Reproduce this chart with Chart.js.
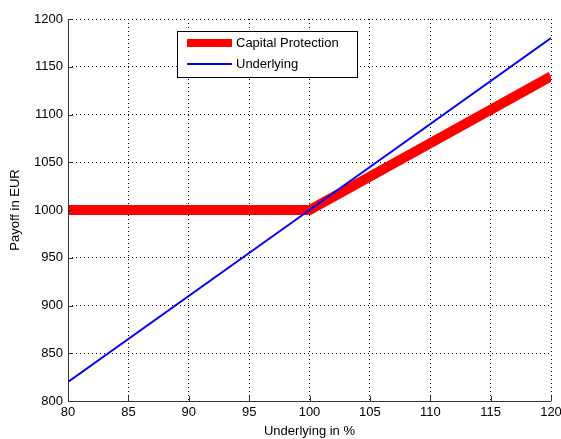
<!DOCTYPE html>
<html>
<head>
<meta charset="utf-8">
<script src="https://cdn.jsdelivr.net/npm/chart.js@4"></script>
<style>
  html, body { margin: 0; padding: 0; background: #fff; }
  #wrap { width: 561px; height: 439px; }
</style>
</head>
<body>
<div id="wrap"><canvas id="payoffChart"></canvas></div>
<script>
// payoff at maturity, per underlying level
const underlying = [80, 100, 120];
const capitalProtection = [1000, 1000, 1140];
const underlyingPayoff = [820, 1000, 1180];

const xTicks = [80, 85, 90, 95, 100, 105, 110, 115, 120];
const yTicks = [800, 850, 900, 950, 1000, 1050, 1100, 1150, 1200];

const FONT = 'Liberation Sans, Arial, sans-serif';

function pts(xs, ys) {
  return xs.map((x, i) => ({ x: x, y: ys[i] }));
}

// small inward tick marks on the left and bottom axes
const innerTicks = {
  id: 'innerTicks',
  afterDraw(chart) {
    const { ctx, chartArea: a, scales: { x, y } } = chart;
    ctx.save();
    ctx.strokeStyle = '#333';
    ctx.lineWidth = 1;
    ctx.beginPath();
    xTicks.forEach(v => {
      const px = Math.round(x.getPixelForValue(v)) + 0.5;
      ctx.moveTo(px, a.bottom);
      ctx.lineTo(px, a.bottom - 5);
    });
    yTicks.forEach(v => {
      const py = Math.round(y.getPixelForValue(v)) + 0.5;
      ctx.moveTo(a.left, py);
      ctx.lineTo(a.left + 5, py);
    });
    // solid left and bottom axis lines
    ctx.moveTo(Math.round(a.left) + 0.5, a.top);
    ctx.lineTo(Math.round(a.left) + 0.5, a.bottom);
    ctx.moveTo(a.left, Math.round(a.bottom) + 0.5);
    ctx.lineTo(a.right, Math.round(a.bottom) + 0.5);
    ctx.stroke();
    ctx.restore();
  }
};

// boxed legend inside the plot
const boxLegend = {
  id: 'boxLegend',
  afterDraw(chart) {
    const { ctx, chartArea: a } = chart;
    const bx = a.left + 109, by = a.top + 12, bw = 180, bh = 46;
    ctx.save();
    ctx.fillStyle = '#fff';
    ctx.fillRect(bx, by, bw, bh);
    ctx.strokeStyle = '#000';
    ctx.lineWidth = 1;
    ctx.strokeRect(bx + 0.5, by + 0.5, bw, bh);
    const items = [
      { label: 'Capital Protection', color: '#ff0000', width: 8, dy: 12 },
      { label: 'Underlying', color: '#0000ff', width: 2, dy: 33 }
    ];
    ctx.font = '13px ' + FONT;
    ctx.textBaseline = 'middle';
    items.forEach(it => {
      ctx.strokeStyle = it.color;
      ctx.lineWidth = it.width;
      ctx.beginPath();
      ctx.moveTo(bx + 10, by + it.dy);
      ctx.lineTo(bx + 55, by + it.dy);
      ctx.stroke();
      ctx.fillStyle = '#000';
      ctx.fillText(it.label, bx + 59, by + it.dy);
    });
    ctx.restore();
  }
};

new Chart(document.getElementById('payoffChart'), {
  type: 'line',
  data: {
    datasets: [
      {
        label: 'Capital Protection',
        data: pts(underlying, capitalProtection),
        borderColor: '#ff0000',
        borderWidth: 10,
        pointRadius: 0,
        fill: false,
        order: 1
      },
      {
        label: 'Underlying',
        data: pts(underlying, underlyingPayoff),
        borderColor: '#0000ff',
        borderWidth: 2,
        pointRadius: 0,
        fill: false,
        order: 0
      }
    ]
  },
  options: {
    responsive: true,
    maintainAspectRatio: false,
    animation: false,
    layout: { padding: { top: 19, right: 10, left: 0, bottom: 0 } },
    plugins: {
      legend: { display: false },
      tooltip: { enabled: false }
    },
    scales: {
      x: {
        type: 'linear',
        min: 80,
        max: 120,
        afterBuildTicks: s => { s.ticks = xTicks.map(v => ({ value: v })); },
        afterFit: s => { s.height = 38; s.paddingRight = 0; s.paddingLeft = 0; },
        ticks: { color: '#000', font: { family: FONT, size: 13 }, padding: 4, maxRotation: 0, callback: v => String(v) },
        grid: { color: '#000', lineWidth: 1, drawTicks: false },
        border: { display: false, dash: [1, 3] },
        title: { display: true, text: 'Underlying in %', color: '#000', font: { family: FONT, size: 13 }, padding: { top: 2, bottom: 0 } }
      },
      y: {
        min: 800,
        max: 1200,
        afterBuildTicks: s => { s.ticks = yTicks.map(v => ({ value: v })); },
        afterFit: s => { s.width = 68; },
        ticks: { color: '#000', font: { family: FONT, size: 13 }, padding: 5, callback: v => String(v) },
        grid: { color: '#000', lineWidth: 1, drawTicks: false },
        border: { display: false, dash: [1, 3] },
        title: { display: true, text: 'Payoff in EUR', color: '#000', font: { family: FONT, size: 13 }, padding: { top: 8, bottom: 0 } }
      }
    }
  },
  plugins: [innerTicks, boxLegend]
});
</script>
</body>
</html>
